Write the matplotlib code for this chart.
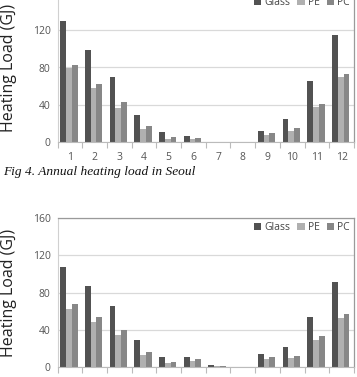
import numpy as np
import matplotlib
matplotlib.use("Agg")
import matplotlib.pyplot as plt

months = [str(m) for m in range(1, 13)]
series_names = ["Glass", "PE", "PC"]

# Top chart (Seoul)
top_glass = [130, 99, 70, 29.5, 11, 6, 0, 0, 11.5, 25, 66, 115]
top_pe = [79, 57.5, 36.5, 13.5, 3.5, 3.2, 0, 0, 8, 12, 37.5, 70]
top_pc = [82.5, 62.5, 42.5, 17, 5.3, 4.3, 0, 0, 9.3, 14.7, 41, 73]

# Bottom chart
bot_glass = [108, 86.8, 65.6, 28.7, 10.4, 11.1, 2.2, 0, 13.6, 21.5, 53.5, 91]
bot_pe = [62.8, 48.4, 34.4, 12.6, 3.9, 6.8, 1.4, 0, 9, 10, 29, 52.4]
bot_pc = [68.2, 54.2, 39.5, 16.1, 5.0, 8.6, 1.4, 0, 10.4, 11.8, 33, 57.4]

yticks = [0, 40, 80, 120, 160]
top_ytick_labels = ["0", "40", "80", "120", ""]
bot_ytick_labels = ["0", "40", "80", "120", "160"]
caption = "Fig 4. Annual heating load in Seoul"
ylabel = "Heating Load (GJ)"

colors = ["#525252", "#b0b0b0", "#878787"]
W, H = 357, 377
fig = plt.figure(figsize=(W / 100, H / 100), dpi=100)
plt.rcParams["font.family"] = ["Open Sans", "DejaVu Sans"]

def make_axes(top_px, bottom_px):
    left = 57.5 / W
    right = 354 / W
    return fig.add_axes([left, 1 - bottom_px / H, right - left, (bottom_px - top_px) / H])

def draw(ax, data, ylabels):
    x = np.arange(len(months))
    bw = 0.235
    for i, (vals, name) in enumerate(zip(data, series_names)):
        ax.bar(x + (i - 1) * bw - 0.04, vals, width=bw, color=colors[i], label=name, linewidth=0)
    ax.set_xlim(-0.5, len(months) - 0.5)
    ax.set_ylim(0, 160)
    ax.set_yticks(yticks)
    ax.set_yticklabels(ylabels)
    ax.set_xticks(x)
    ax.set_xticklabels(months)
    ax.set_xticks(np.arange(-0.5, len(months) + 0.5, 1), minor=True)
    ax.tick_params(axis="x", which="major", length=0, pad=7, labelsize=7.5, colors="#555555")
    ax.tick_params(axis="x", which="minor", length=4, width=0.8, color="#bbbbbb", direction="out")
    ax.tick_params(axis="y", length=0, pad=5, labelsize=7.5, colors="#555555")
    ax.grid(axis="y", color="#d9d9d9", linewidth=0.9)
    ax.set_axisbelow(True)
    for s in ["top", "right"]:
        ax.spines[s].set_color("#9a9a9a")
        ax.spines[s].set_linewidth(0.9)
    ax.spines["left"].set_color("#d0d0d0")
    ax.spines["bottom"].set_color("#bbbbbb")
    ax.set_ylabel(ylabel, fontsize=11.5, color="#222222")
    ax.yaxis.set_label_coords(-0.135, 0.5)
    leg = ax.legend(loc="upper right", ncol=3, frameon=False, fontsize=7.5,
                    handlelength=0.7, handleheight=0.7, handletextpad=0.3,
                    columnspacing=0.7, borderaxespad=0.2, borderpad=0.2)
    for t in leg.get_texts():
        t.set_color("#444444")

ax1 = make_axes(-7, 142)
draw(ax1, [top_glass, top_pe, top_pc], top_ytick_labels)
ax2 = make_axes(218.3, 367)
draw(ax2, [bot_glass, bot_pe, bot_pc], bot_ytick_labels)

fig.text(3 / W, 1 - 172 / H, caption, fontsize=9.6, style="italic",
         family=["Liberation Serif"], va="center", ha="left", color="#111111")

fig.savefig("out.png", dpi=100)
